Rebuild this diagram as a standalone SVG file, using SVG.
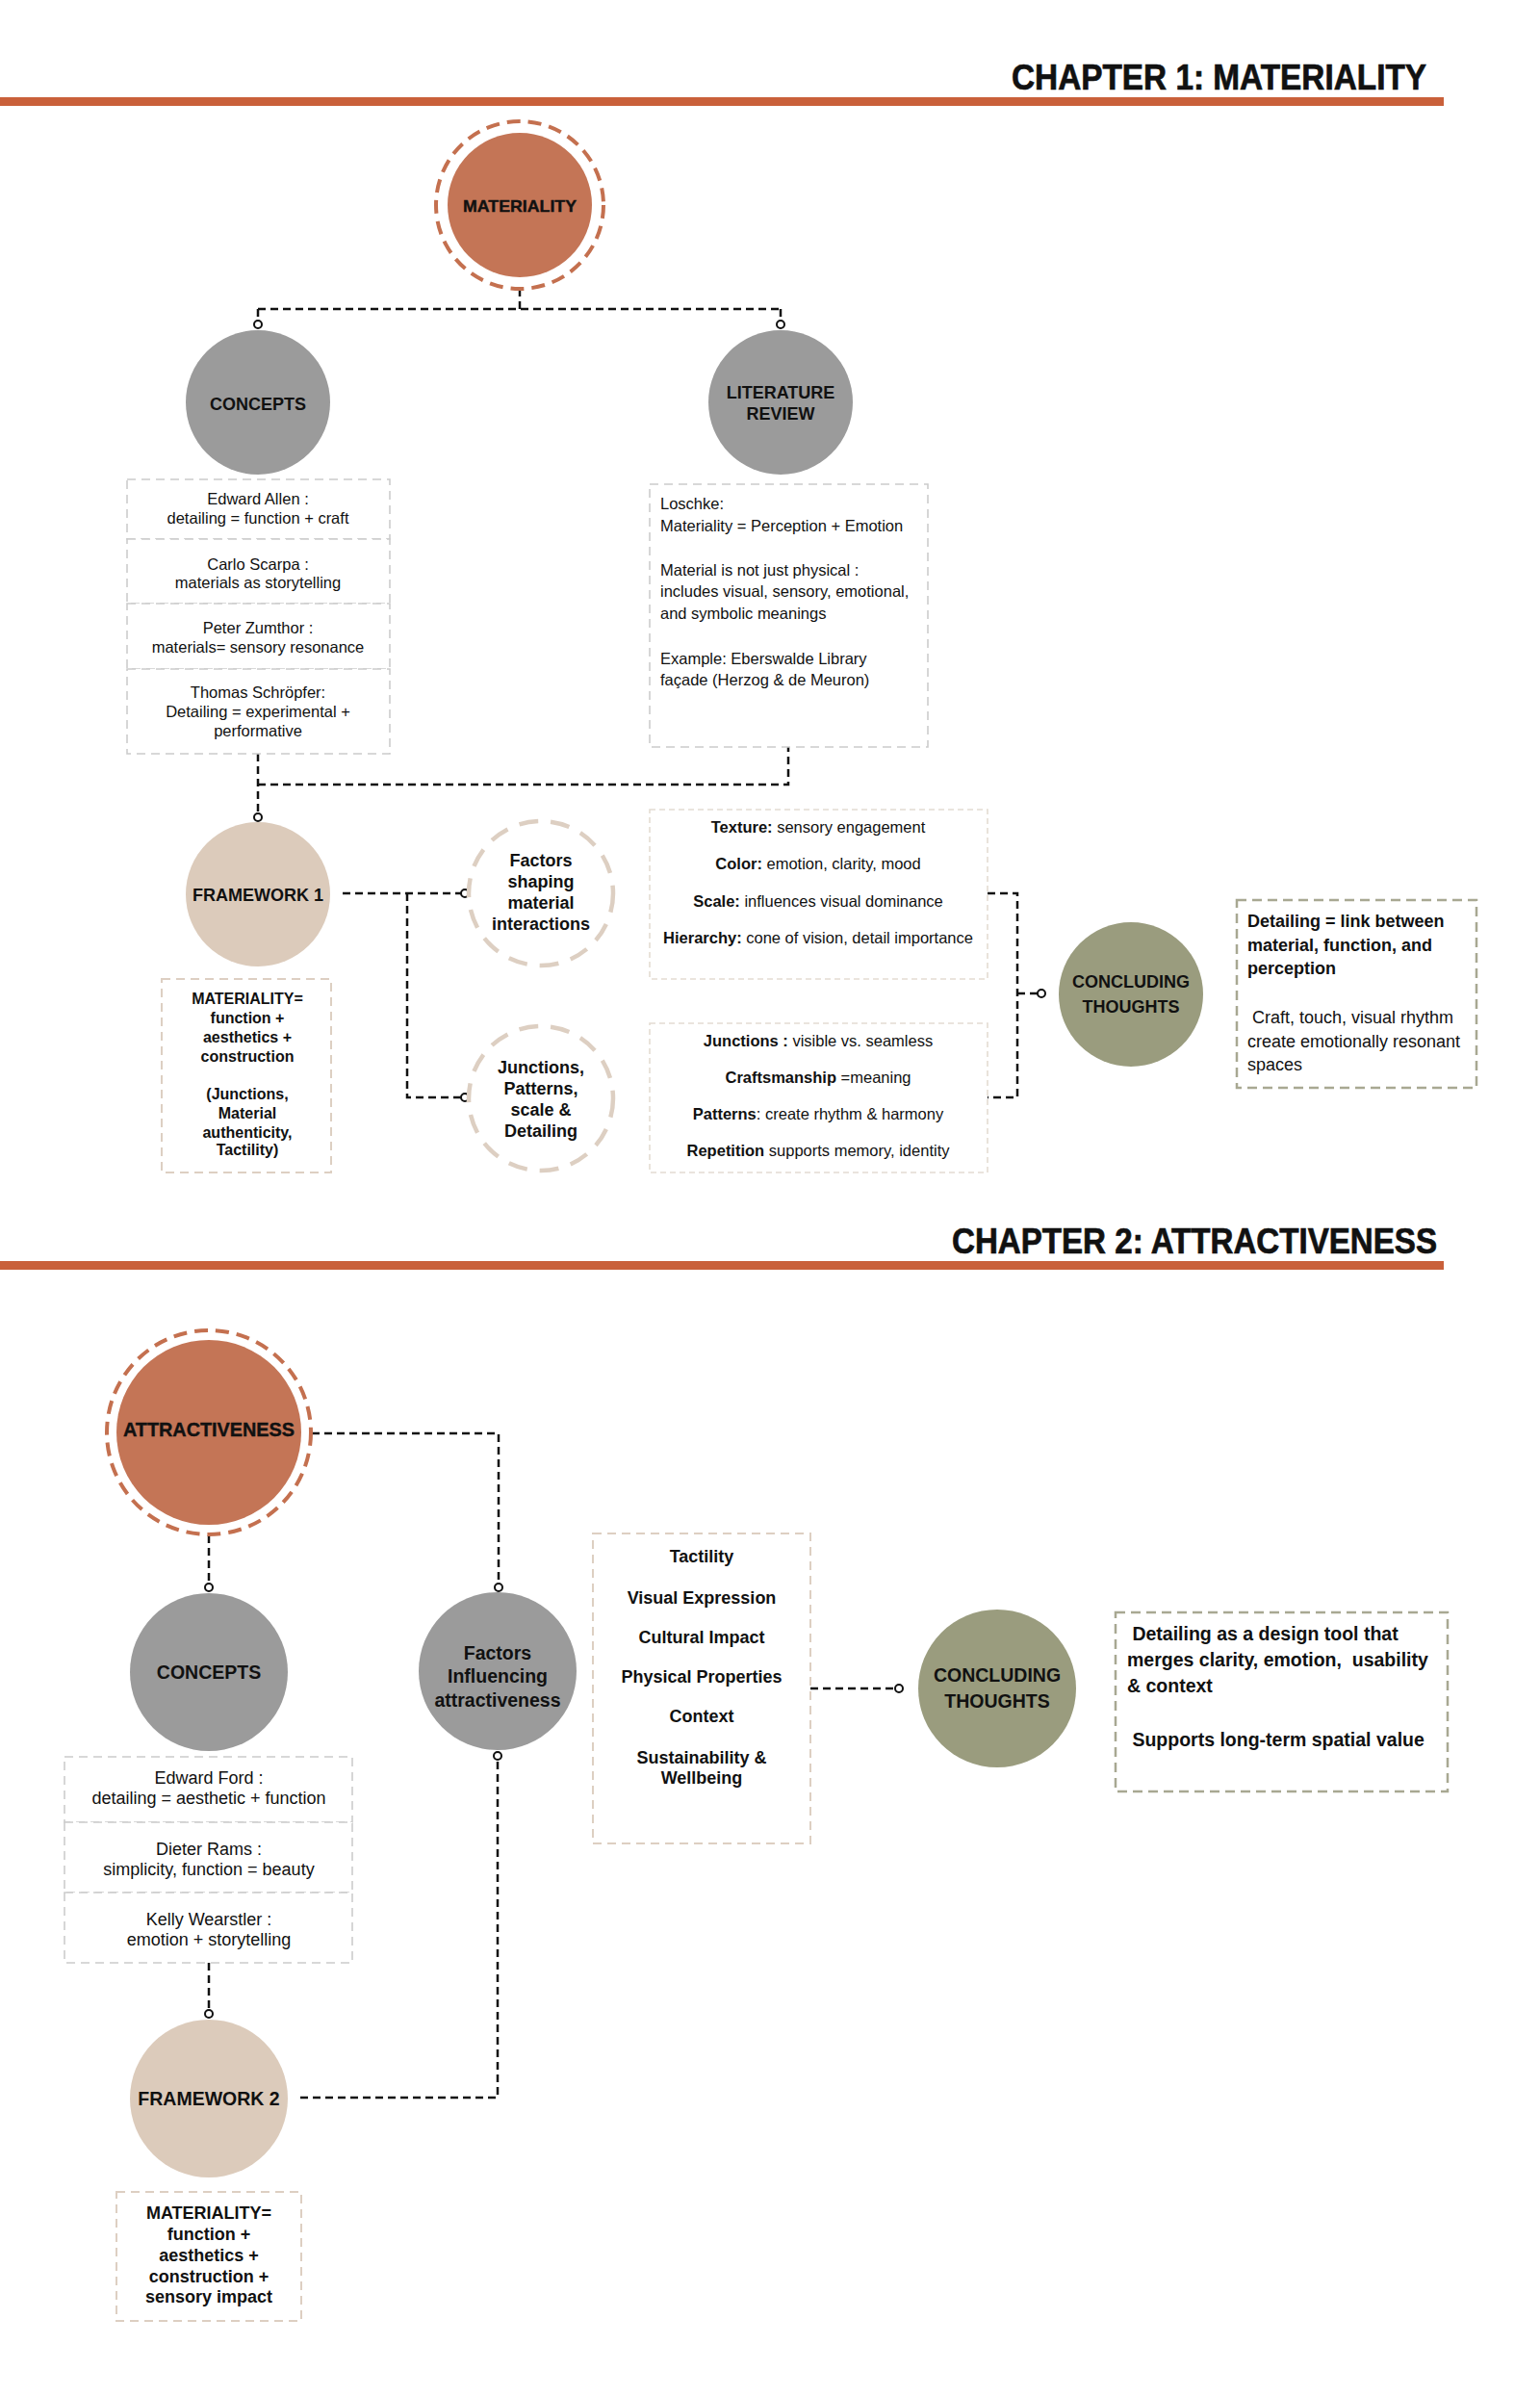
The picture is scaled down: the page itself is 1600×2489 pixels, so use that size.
<svg xmlns="http://www.w3.org/2000/svg" width="1600" height="2489" viewBox="0 0 1600 2489">
<style>
text{font-family:"Liberation Sans",Arial,sans-serif;fill:#111}
.hdr{font-size:36px;font-weight:bold;stroke:#111;stroke-width:0.7}
.cond{stroke:#111;stroke-width:0.4}
.b{font-weight:bold}
.c{text-anchor:middle}
.conn{fill:none;stroke:#111;stroke-width:2.5;stroke-dasharray:8 5}
.mk{fill:#fff;stroke:#111;stroke-width:2}
.bar{fill:#C9603A}
.terra{fill:#C47556}
.ring{fill:none;stroke:#C4704F;stroke-width:4;stroke-dasharray:14 8}
.gray{fill:#9B9B9B}
.beige{fill:#DCCBBB}
.olive{fill:#9A9C7E}
.bring{fill:none;stroke:#DDCFC2;stroke-width:4.5;stroke-dasharray:20 13}
.gbox{fill:#fff;stroke:#CCCCCC;stroke-width:1.6;stroke-dasharray:9 6}
.fbox{fill:#fff;stroke:#DDCFC2;stroke-width:2;stroke-dasharray:9 6}
.tbox{fill:#fff;stroke:#E4DCD2;stroke-width:1.6;stroke-dasharray:6 4}
.obox{fill:#fff;stroke:#A8A892;stroke-width:2.5;stroke-dasharray:10 6}
</style>

<!-- Chapter 1 header -->
<g id="chapter1-header">
<text class="hdr" x="1051" y="93" textLength="431" lengthAdjust="spacingAndGlyphs">CHAPTER 1: MATERIALITY</text>
<rect class="bar" x="0" y="101" width="1500" height="9"/>
</g>

<g id="connectors">
<path class="conn" d="M540,300 V321"/>
<path class="conn" d="M268,321 H811"/>
<path class="conn" d="M268,321 V333 M811,321 V333"/>
<path class="conn" d="M268,783 V845"/>
<path class="conn" d="M268,815 H819 V776"/>
<path class="conn" d="M356,928 H479"/>
<path class="conn" d="M423,928 V1140 H479"/>
<path class="conn" d="M1026,928 H1057 V1140 H1026"/>
<path class="conn" d="M1057,1032 H1078"/>
<path class="conn" d="M324,1489 H518 V1645"/>
<path class="conn" d="M217,1595 V1645"/>
<path class="conn" d="M217,2039 V2088"/>
<path class="conn" d="M312,2179 H517 V1828"/>
<path class="conn" d="M842,1754 H930"/>
<circle class="mk" cx="268" cy="337" r="4"/>
<circle class="mk" cx="811" cy="337" r="4"/>
<circle class="mk" cx="268" cy="849" r="4"/>
<circle class="mk" cx="483" cy="928" r="4"/>
<circle class="mk" cx="483" cy="1140" r="4"/>
<circle class="mk" cx="1082" cy="1032" r="4"/>
<circle class="mk" cx="518" cy="1649" r="4"/>
<circle class="mk" cx="217" cy="1649" r="4"/>
<circle class="mk" cx="217" cy="2092" r="4"/>
<circle class="mk" cx="517" cy="1824" r="4"/>
<circle class="mk" cx="934" cy="1754" r="4"/>
</g>

<g id="materiality">
<circle class="ring" cx="540" cy="213" r="87"/>
<circle class="terra" cx="540" cy="213" r="75"/>
<text class="b c cond" x="540" y="220" font-size="17" textLength="118" lengthAdjust="spacingAndGlyphs">MATERIALITY</text>
</g>

<g id="concepts1">
<circle class="gray" cx="268" cy="418" r="75"/>
<text class="b c" x="268" y="426" font-size="18">CONCEPTS</text>
</g>

<g id="concepts1-boxes" font-size="16.5">
<rect class="gbox" x="132" y="498" width="273" height="62"/>
<text class="c" x="268" y="524">Edward Allen :</text>
<text class="c" x="268" y="544">detailing = function + craft</text>
<rect class="gbox" x="132" y="560" width="273" height="67"/>
<text class="c" x="268" y="592">Carlo Scarpa :</text>
<text class="c" x="268" y="611">materials as storytelling</text>
<rect class="gbox" x="132" y="627" width="273" height="68"/>
<text class="c" x="268" y="658">Peter Zumthor :</text>
<text class="c" x="268" y="678">materials= sensory resonance</text>
<rect class="gbox" x="132" y="695" width="273" height="88"/>
<text class="c" x="268" y="725">Thomas Schröpfer:</text>
<text class="c" x="268" y="745">Detailing = experimental +</text>
<text class="c" x="268" y="765">performative</text>
</g>

<g id="literature-review">
<circle class="gray" cx="811" cy="418" r="75"/>
<text class="b c" x="811" y="414" font-size="18">LITERATURE</text>
<text class="b c" x="811" y="436" font-size="18">REVIEW</text>
</g>

<g id="literature-box" font-size="16.5">
<rect class="gbox" x="675" y="503" width="289" height="273"/>
<text x="686" y="529">Loschke:</text>
<text x="686" y="552">Materiality = Perception + Emotion</text>
<text x="686" y="598">Material is not just physical :</text>
<text x="686" y="620">includes visual, sensory, emotional,</text>
<text x="686" y="643">and symbolic meanings</text>
<text x="686" y="690">Example: Eberswalde Library</text>
<text x="686" y="712">façade (Herzog &amp; de Meuron)</text>
</g>

<g id="framework1">
<circle class="beige" cx="268" cy="929" r="75"/>
<text class="b c" x="268" y="936" font-size="18">FRAMEWORK 1</text>
</g>

<g id="framework1-box" font-size="16" font-weight="bold">
<rect class="fbox" x="168" y="1017" width="176" height="201"/>
<text class="c" x="257" y="1043">MATERIALITY=</text>
<text class="c" x="257" y="1063">function +</text>
<text class="c" x="257" y="1083">aesthetics +</text>
<text class="c" x="257" y="1103">construction</text>
<text class="c" x="257" y="1142">(Junctions,</text>
<text class="c" x="257" y="1162">Material</text>
<text class="c" x="257" y="1182">authenticity,</text>
<text class="c" x="257" y="1200">Tactility)</text>
</g>

<g id="factors-shaping" font-size="18" font-weight="bold">
<circle class="bring" cx="562" cy="928" r="75"/>
<text class="c" x="562" y="900">Factors</text>
<text class="c" x="562" y="922">shaping</text>
<text class="c" x="562" y="944">material</text>
<text class="c" x="562" y="966">interactions</text>
</g>

<g id="junctions-patterns" font-size="18" font-weight="bold">
<circle class="bring" cx="562" cy="1141" r="75"/>
<text class="c" x="562" y="1115">Junctions,</text>
<text class="c" x="562" y="1137">Patterns,</text>
<text class="c" x="562" y="1159">scale &amp;</text>
<text class="c" x="562" y="1181">Detailing</text>
</g>

<g id="texture-box" font-size="16.5">
<rect class="tbox" x="675" y="841" width="351" height="176"/>
<text class="c" x="850" y="865"><tspan class="b">Texture:</tspan> sensory engagement</text>
<text class="c" x="850" y="903"><tspan class="b">Color:</tspan> emotion, clarity, mood</text>
<text class="c" x="850" y="942"><tspan class="b">Scale:</tspan> influences visual dominance</text>
<text class="c" x="850" y="980"><tspan class="b">Hierarchy:</tspan> cone of vision, detail importance</text>
</g>

<g id="junctions-box" font-size="16.5">
<rect class="tbox" x="675" y="1063" width="351" height="155"/>
<text class="c" x="850" y="1087"><tspan class="b">Junctions :</tspan> visible vs. seamless</text>
<text class="c" x="850" y="1125"><tspan class="b">Craftsmanship</tspan> =meaning</text>
<text class="c" x="850" y="1163"><tspan class="b">Patterns</tspan>: create rhythm &amp; harmony</text>
<text class="c" x="850" y="1201"><tspan class="b">Repetition</tspan> supports memory, identity</text>
</g>

<g id="concluding1">
<circle class="olive" cx="1175" cy="1033" r="75"/>
<text class="b c" x="1175" y="1026" font-size="18">CONCLUDING</text>
<text class="b c" x="1175" y="1052" font-size="18">THOUGHTS</text>
</g>

<g id="concluding1-box" font-size="18">
<rect class="obox" x="1285" y="935" width="249" height="195"/>
<text class="b" x="1296" y="963">Detailing = link between</text>
<text class="b" x="1296" y="988">material, function, and</text>
<text class="b" x="1296" y="1012">perception</text>
<text x="1296" y="1063" xml:space="preserve"> Craft, touch, visual rhythm</text>
<text x="1296" y="1088">create emotionally resonant</text>
<text x="1296" y="1112">spaces</text>
</g>

<!-- Chapter 2 header -->
<g id="chapter2-header">
<text class="hdr" x="989" y="1302" textLength="504" lengthAdjust="spacingAndGlyphs">CHAPTER 2: ATTRACTIVENESS</text>
<rect class="bar" x="0" y="1310" width="1500" height="9"/>
</g>

<g id="attractiveness">
<circle class="ring" cx="217" cy="1488" r="106"/>
<circle class="terra" cx="217" cy="1488" r="96"/>
<text class="b c cond" x="217" y="1492" font-size="20" textLength="178" lengthAdjust="spacingAndGlyphs">ATTRACTIVENESS</text>
</g>

<g id="concepts2">
<circle class="gray" cx="217" cy="1737" r="82"/>
<text class="b c" x="217" y="1744" font-size="19.5">CONCEPTS</text>
</g>

<g id="concepts2-boxes" font-size="18">
<rect class="gbox" x="67" y="1825" width="299" height="68"/>
<text class="c" x="217" y="1853">Edward Ford :</text>
<text class="c" x="217" y="1874">detailing = aesthetic + function</text>
<rect class="gbox" x="67" y="1893" width="299" height="73"/>
<text class="c" x="217" y="1927">Dieter Rams :</text>
<text class="c" x="217" y="1948">simplicity, function = beauty</text>
<rect class="gbox" x="67" y="1966" width="299" height="73"/>
<text class="c" x="217" y="2000">Kelly Wearstler :</text>
<text class="c" x="217" y="2021">emotion + storytelling</text>
</g>

<g id="framework2">
<circle class="beige" cx="217" cy="2180" r="82"/>
<text class="b c" x="217" y="2187" font-size="19.5">FRAMEWORK 2</text>
</g>

<g id="framework2-box" font-size="18" font-weight="bold">
<rect class="fbox" x="121" y="2277" width="192" height="134"/>
<text class="c" x="217" y="2305">MATERIALITY=</text>
<text class="c" x="217" y="2327">function +</text>
<text class="c" x="217" y="2349">aesthetics +</text>
<text class="c" x="217" y="2371">construction +</text>
<text class="c" x="217" y="2392">sensory impact</text>
</g>

<g id="factors-influencing" font-size="19.5" font-weight="bold">
<circle class="gray" cx="517" cy="1736" r="82"/>
<text class="c" x="517" y="1724">Factors</text>
<text class="c" x="517" y="1748">Influencing</text>
<text class="c" x="517" y="1773">attractiveness</text>
</g>

<g id="factors-list" font-size="18" font-weight="bold">
<rect class="fbox" x="616" y="1593" width="226" height="322"/>
<text class="c" x="729" y="1623">Tactility</text>
<text class="c" x="729" y="1666">Visual Expression</text>
<text class="c" x="729" y="1707">Cultural Impact</text>
<text class="c" x="729" y="1748">Physical Properties</text>
<text class="c" x="729" y="1789">Context</text>
<text class="c" x="729" y="1832">Sustainability &amp;</text>
<text class="c" x="729" y="1853">Wellbeing</text>
</g>

<g id="concluding2">
<circle class="olive" cx="1036" cy="1754" r="82"/>
<text class="b c" x="1036" y="1747" font-size="19.5">CONCLUDING</text>
<text class="b c" x="1036" y="1774" font-size="19.5">THOUGHTS</text>
</g>

<g id="concluding2-box" font-size="19.5" font-weight="bold">
<rect class="obox" x="1159" y="1675" width="345" height="186"/>
<text x="1171" y="1704" xml:space="preserve"> Detailing as a design tool that</text>
<text x="1171" y="1731" xml:space="preserve">merges clarity, emotion,  usability</text>
<text x="1171" y="1758">&amp; context</text>
<text x="1171" y="1814" xml:space="preserve"> Supports long-term spatial value</text>
</g>
</svg>
